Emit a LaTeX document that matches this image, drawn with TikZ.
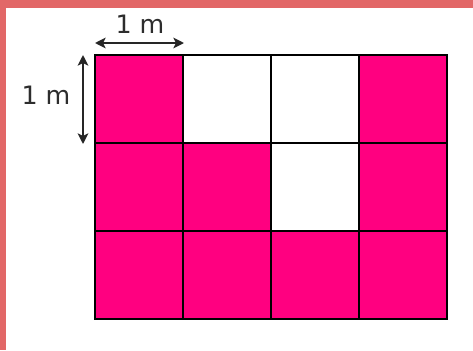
\documentclass[tikz,border=0pt]{standalone}
\usepackage{fontspec}
\setmainfont{DejaVu Sans}
\usetikzlibrary{arrows.meta}
\definecolor{tilepink}{RGB}{255,0,128}
\definecolor{framered}{RGB}{226,103,103}
\definecolor{labelgray}{RGB}{45,45,45}
\tikzset{every picture/.style={line width=0.75pt}}
\tikzset{
  tile/.style={draw=black,line width=1.2pt},
  dimarrow/.style={{Stealth[length=8pt,width=8pt,inset=2pt]}-{Stealth[length=8pt,width=8pt,inset=2pt]},line width=1.4pt,color=black!85},
  dimlabel/.style={inner sep=0.75pt,text=labelgray,font=\fontsize{19}{21}\selectfont}
}
\begin{document}
\begin{tikzpicture}[x=0.75pt,y=0.75pt,yscale=-1,xscale=1]
\useasboundingbox (0,0) rectangle (473,350);
\fill[white] (0,0) rectangle (473,350);

%Shape: Frame strips
\fill[framered] (0,0) rectangle (473,8);
\fill[framered] (0,0) rectangle (6,350);

%Shape: Tiles (column/row/fill)
\foreach \c/\r/\f in {0/0/tilepink,1/0/white,2/0/white,3/0/tilepink,
                      0/1/tilepink,1/1/tilepink,2/1/white,3/1/tilepink,
                      0/2/tilepink,1/2/tilepink,2/2/tilepink,3/2/tilepink}
  \draw[tile,fill=\f] ({95+88*\c},{55+88*\r}) rectangle ++(88,88);

%Straight Lines: width arrow
\coordinate (wl) at (95,43);
\coordinate (wr) at (184,43);
\draw[dimarrow] (wl) -- (wr);
%Straight Lines: height arrow
\coordinate (ht) at (83,55);
\coordinate (hb) at (83,144);
\draw[dimarrow] (ht) -- (hb);

% Text Node
\node[dimlabel] (widthlabel) at (140,24) {1 m};
% Text Node
\node[dimlabel] (heightlabel) at (46,95) {1 m};

\end{tikzpicture}
\end{document}
